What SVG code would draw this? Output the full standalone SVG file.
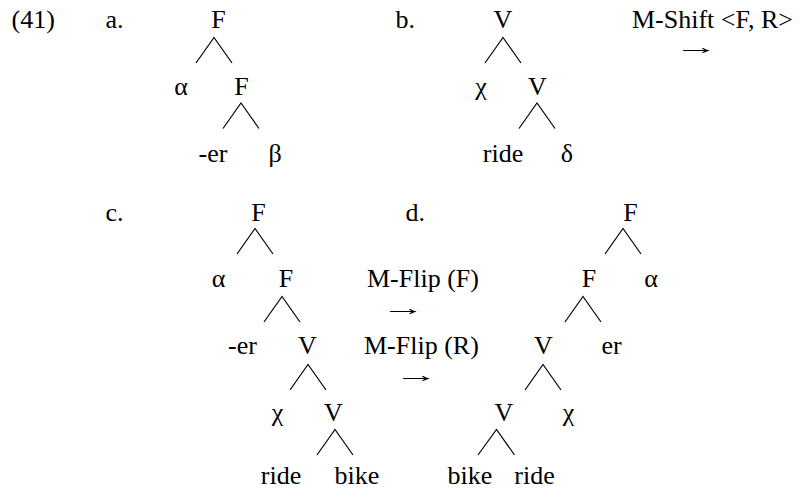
<svg xmlns="http://www.w3.org/2000/svg" width="800" height="490" viewBox="0 0 800 490">
<style>
text{font-family:"Liberation Serif","Times New Roman",serif;font-size:26px;fill:#000}
.n{text-anchor:middle}
.ar{font-size:22px}
.e{stroke:#000;stroke-width:1.2;fill:none}
</style>
<rect width="800" height="490" fill="#fff"/>
<text x="11.5" y="28">(41)</text>
<text x="105.5" y="28">a.</text>
<text x="395.5" y="28">b.</text>
<text x="105.5" y="221">c.</text>
<text x="405.5" y="221">d.</text>
<text x="632" y="28">M-Shift &lt;F, R&gt;</text>
<text class="ar" transform="translate(674.5,54) scale(2,1)">→</text>
<text x="367" y="287">M-Flip (F)</text>
<text class="ar" transform="translate(381.5,314.5) scale(2,1)">→</text>
<text x="364" y="354">M-Flip (R)</text>
<text class="ar" transform="translate(394.5,382) scale(2,1)">→</text>
<g id="connectors">
<path class="e" d="M196,63 L214,37.5 L232,63"/>
<path class="e" d="M223,128.5 L241,103 L259,128.5"/>
<path class="e" d="M485,63 L503,37.5 L521,63"/>
<path class="e" d="M519,128.5 L537,103 L555,128.5"/>
<path class="e" d="M237,254 L255,228.5 L273,254"/>
<path class="e" d="M264,322 L282,296.5 L300,322"/>
<path class="e" d="M290,390 L308,364.5 L326,390"/>
<path class="e" d="M317,455 L335,429.5 L353,455"/>
<path class="e" d="M605,254 L623,228.5 L641,254"/>
<path class="e" d="M565,322 L583,296.5 L601,322"/>
<path class="e" d="M525,390 L543,364.5 L561,390"/>
<path class="e" d="M478,455 L496.5,429.5 L514.5,455"/>
</g>
<g id="a-F1"><text class="n" x="218.5" y="28">F</text></g>
<g id="a-alpha"><text class="n" x="181" y="95">α</text></g>
<g id="a-F2"><text class="n" x="241.5" y="95">F</text></g>
<g id="a-er"><text class="n" x="213" y="162">-er</text></g>
<g id="a-beta"><text class="n" x="275" y="162">β</text></g>
<g id="b-V1"><text class="n" x="503" y="28">V</text></g>
<g id="b-chi"><text class="n" x="481" y="95">χ</text></g>
<g id="b-V2"><text class="n" x="537.5" y="95">V</text></g>
<g id="b-ride"><text class="n" x="503" y="162">ride</text></g>
<g id="b-delta"><text class="n" x="567" y="162">δ</text></g>
<g id="c-F1"><text class="n" x="258.5" y="221">F</text></g>
<g id="c-alpha"><text class="n" x="218.5" y="287">α</text></g>
<g id="c-F2"><text class="n" x="286" y="287">F</text></g>
<g id="c-er"><text class="n" x="242.5" y="354">-er</text></g>
<g id="c-V1"><text class="n" x="307.5" y="354">V</text></g>
<g id="c-chi"><text class="n" x="277.5" y="421">χ</text></g>
<g id="c-V2"><text class="n" x="333.5" y="421">V</text></g>
<g id="c-ride"><text class="n" x="281" y="484">ride</text></g>
<g id="c-bike"><text class="n" x="357" y="484">bike</text></g>
<g id="d-F1"><text class="n" x="630.5" y="221">F</text></g>
<g id="d-F2"><text class="n" x="589" y="287">F</text></g>
<g id="d-alpha"><text class="n" x="651" y="287">α</text></g>
<g id="d-V1"><text class="n" x="543.5" y="354">V</text></g>
<g id="d-er"><text class="n" x="611.5" y="354">er</text></g>
<g id="d-V2"><text class="n" x="504" y="421">V</text></g>
<g id="d-chi"><text class="n" x="568.5" y="421">χ</text></g>
<g id="d-bike"><text class="n" x="470" y="484">bike</text></g>
<g id="d-ride"><text class="n" x="534.5" y="484">ride</text></g>
</svg>
